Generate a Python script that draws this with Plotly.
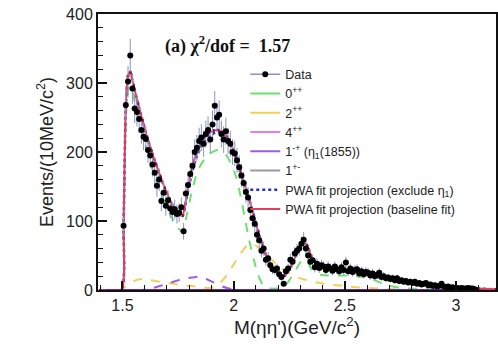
import math
import plotly.graph_objects as go

# ---------------- data ----------------
data_counts = [93, 268, 302, 340, 292, 263, 258, 248, 232, 222,
               219, 203, 195, 182, 170, 151, 160, 129, 141, 122,
               130, 118, 113, 117, 110, 112, 120, 85, 140, 152,
               168, 180, 200, 206, 216, 221, 212, 226, 232, 218,
               240, 267, 250, 254, 226, 218, 230, 216, 212, 200,
               198, 188, 178, 166, 155, 142, 134, 116, 104, 96,
               80, 72, 57, 60, 44, 46, 36, 30, 29, 31,
               23, 19, 9, 27, 31, 44, 41, 53, 57, 60,
               67, 73, 60, 50, 41, 43, 33, 38, 32, 36,
               34, 29, 34, 31, 28, 34, 30, 27, 33, 29,
               40, 27, 31, 26, 29, 30, 24, 27, 23, 26,
               25, 21, 24, 20, 22, 25, 19, 20, 17, 18,
               16, 17, 14, 17, 13, 14, 12, 13, 11, 12,
               10, 12, 9, 10, 8, 9, 10, 7, 8, 6,
               7, 5, 6, 9, 5, 4, 5, 3, 4, 3,
               3, 2, 3, 2, 2, 3, 2, 2, 1]
data_mass = [round(1.505 + 0.01 * i, 3) for i in range(len(data_counts))]
data_err = [1.3 * math.sqrt(c) for c in data_counts]

curve_mass = [1.40, 1.495, 1.505, 1.515, 1.525, 1.535, 1.55, 1.57, 1.59, 1.61,
              1.63, 1.65, 1.67, 1.69, 1.71, 1.73, 1.75, 1.77, 1.79, 1.81,
              1.83, 1.85, 1.87, 1.89, 1.91, 1.93, 1.95, 1.97, 1.99, 2.01,
              2.03, 2.05, 2.07, 2.09, 2.11, 2.13, 2.15, 2.17, 2.19, 2.21,
              2.23, 2.25, 2.27, 2.29, 2.31, 2.33, 2.35, 2.37, 2.39, 2.42,
              2.46, 2.50, 2.55, 2.60, 2.65, 2.70, 2.75, 2.80, 2.85, 2.90,
              2.95, 3.00, 3.05, 3.10, 3.18]

fit_baseline = [0, 0, 95, 265, 310, 316, 296, 270, 246, 222,
                202, 183, 165, 148, 133, 120, 109, 108, 140, 172,
                197, 212, 222, 228, 231, 232, 229, 222, 210, 193,
                172, 152, 132, 108, 85, 64, 47, 35, 27, 22,
                21, 30, 43, 57, 68, 65, 48, 40, 36, 33,
                31, 29, 26, 22, 19, 16, 13, 11, 9, 7,
                5, 4, 3, 2, 1]

fit_exclude = [0, 0, 95, 265, 310, 316, 296, 270, 246, 222,
               202, 183, 165, 148, 133, 120, 109, 107, 136, 166,
               190, 205, 216, 223, 227, 229, 227, 221, 209, 193,
               172, 152, 132, 108, 85, 64, 47, 35, 27, 22,
               21, 30, 43, 57, 68, 65, 48, 40, 36, 33,
               31, 29, 26, 22, 19, 16, 13, 11, 9, 7,
               5, 4, 3, 2, 1]

wave_0pp = [0, 0, 85, 245, 290, 296, 280, 252, 226, 202,
            180, 160, 142, 126, 112, 100, 90, 84, 110, 140,
            164, 180, 190, 197, 201, 203, 200, 194, 182, 165,
            138, 105, 72, 45, 22, 8, 3, 2, 2, 3,
            6, 14, 24, 35, 44, 42, 30, 24, 22, 21,
            21, 21, 20, 18, 12, 6, 3, 2, 1, 1,
            0, 0, 0, 0, 0]

wave_2pp = [0, 0, 2, 5, 8, 10, 13, 15, 16, 15,
            14, 13, 12, 11, 10, 9, 8, 7, 6, 6,
            5, 4, 3, 3, 4, 8, 14, 22, 32, 42,
            52, 61, 66, 66, 62, 56, 50, 44, 38, 33,
            28, 24, 21, 18, 16, 14, 12, 11, 10, 8,
            7, 6, 4, 3, 2, 1, 1, 0, 0, 0,
            0, 0, 0, 0, 0]

wave_4pp = [0, 0, 0, 0, 0, 0, 0, 0, 0, 0,
            0, 0, 0, 0, 0, 0, 0, 0, 0, 0,
            0, 0, 0, 0, 0, 0, 0, 0, 0, 0,
            0, 0, 0, 0, 0, 0, 0, 0, 0, 0,
            0, 0, 0, 0, 0, 0, 0, 0, 0, 0,
            0, 0, 0, 0, 0, 0, 0, 0, 0, 0,
            0, 0, 0, 0, 0]

wave_1mp = [0, 0, 0, 0, 0, 0, 0, 0, 0, 1,
            2, 4, 6, 8, 10, 12, 14, 16, 17, 18,
            19, 19, 17, 14, 11, 8, 5, 3, 1.5, 0.5,
            0, 0, 0, 0, 0, 0, 0, 0, 0, 0,
            0, 0, 0, 0, 0, 0, 0, 0, 0, 0,
            0, 0, 0, 0, 0, 0, 0, 0, 0, 0,
            0, 0, 0, 0, 0]

wave_1pm = [0, 0, 0, 0, 0, 0, 0, 0, 0, 0,
            0, 0, 0, 0, 0, 0, 0, 0, 0, 0,
            0, 0, 0, 0, 0, 0, 0, 0, 0, 0,
            0, 0, 0, 0, 0, 0, 0, 0, 0, 0,
            0, 0, 0, 0, 0, 0, 0, 0, 0, 0,
            0, 0, 0, 0, 0, 0, 0, 0, 0, 0,
            0, 0, 0, 0, 0]

x_ticks = [1.5, 2.0, 2.5, 3.0]
x_tick_text = ["1.5", "2", "2.5", "3"]
y_ticks = [0, 100, 200, 300, 400]

legend_names = ["Data", "0<sup>++</sup>", "2<sup>++</sup>", "4<sup>++</sup>",
                "1<sup>-+</sup> (η<sub>1</sub>(1855))", "1<sup>+-</sup>",
                "PWA fit projection (exclude η<sub>1</sub>)",
                "PWA fit projection (baseline fit)"]

C_DATA_ERR = "#8a94c4"
C_0PP = "#6ee06e"
C_2PP = "#f2cf55"
C_4PP = "#de7ef0"
C_1MP = "#9a5fdc"
C_1PM = "#9a9a9a"
C_EXCL = "#2b2bd0"
C_BASE = "#e0405e"

# ---------------- figure ----------------
fig = go.Figure()

fig.add_trace(go.Scatter(
    x=curve_mass, y=wave_0pp, mode="lines", showlegend=False,
    line=dict(color=C_0PP, width=2, dash="dash", shape="spline", smoothing=0.6),
))
fig.add_trace(go.Scatter(
    x=curve_mass, y=wave_2pp, mode="lines", showlegend=False,
    line=dict(color=C_2PP, width=2, dash="dash", shape="spline", smoothing=0.6),
))
fig.add_trace(go.Scatter(
    x=curve_mass, y=wave_4pp, mode="lines", showlegend=False,
    line=dict(color=C_4PP, width=1.8, dash="dash"),
))
fig.add_trace(go.Scatter(
    x=curve_mass, y=wave_1mp, mode="lines", showlegend=False,
    line=dict(color=C_1MP, width=2, dash="dash", shape="spline", smoothing=0.6),
))
fig.add_trace(go.Scatter(
    x=curve_mass, y=wave_1pm, mode="lines", showlegend=False,
    line=dict(color=C_1PM, width=1.5),
))
# baseline purple line along zero
fig.add_trace(go.Scatter(
    x=[curve_mass[0], curve_mass[-1]], y=[0, 0], mode="lines", showlegend=False,
    line=dict(color="#6a2ca0", width=2), hoverinfo="skip",
))
fig.add_trace(go.Scatter(
    x=curve_mass, y=fit_exclude, mode="lines", showlegend=False,
    line=dict(color=C_EXCL, width=2.5, dash="dot", shape="spline", smoothing=0.6),
))
fig.add_trace(go.Scatter(
    x=curve_mass, y=fit_baseline, mode="lines+markers", showlegend=False,
    line=dict(color=C_BASE, width=2, shape="spline", smoothing=0.6),
    marker=dict(color="#8a1040", size=3),
))
fig.add_trace(go.Scatter(
    x=data_mass, y=data_counts, mode="markers", showlegend=False,
    marker=dict(color="black", size=6),
    error_y=dict(type="data", array=data_err, color=C_DATA_ERR, thickness=1, width=0),
))

# legend entries (ROOT-style: solid line samples)
fig.add_trace(go.Scatter(x=[None], y=[None], mode="lines+markers", name=legend_names[0],
                         line=dict(color=C_DATA_ERR, width=1.5), marker=dict(color="black", size=6)))
fig.add_trace(go.Scatter(x=[None], y=[None], mode="lines", name=legend_names[1],
                         line=dict(color=C_0PP, width=2)))
fig.add_trace(go.Scatter(x=[None], y=[None], mode="lines", name=legend_names[2],
                         line=dict(color=C_2PP, width=2)))
fig.add_trace(go.Scatter(x=[None], y=[None], mode="lines", name=legend_names[3],
                         line=dict(color=C_4PP, width=2)))
fig.add_trace(go.Scatter(x=[None], y=[None], mode="lines", name=legend_names[4],
                         line=dict(color=C_1MP, width=2)))
fig.add_trace(go.Scatter(x=[None], y=[None], mode="lines", name=legend_names[5],
                         line=dict(color=C_1PM, width=2)))
fig.add_trace(go.Scatter(x=[None], y=[None], mode="lines", name=legend_names[6],
                         line=dict(color=C_EXCL, width=2.5, dash="dot")))
fig.add_trace(go.Scatter(x=[None], y=[None], mode="lines", name=legend_names[7],
                         line=dict(color=C_BASE, width=2)))

axis_font = dict(family="Liberation Sans, Arial, sans-serif", size=16, color="#222")

fig.update_layout(
    width=498, height=349,
    margin=dict(l=98, r=0, t=14, b=59),
    paper_bgcolor="white", plot_bgcolor="white",
    font=dict(family="Liberation Sans, Arial, sans-serif", color="#222"),
    legend=dict(
        x=0.37, y=0.835, xanchor="left", yanchor="top",
        bgcolor="rgba(0,0,0,0)", font=dict(size=12.5, color="#222"),
        tracegroupgap=0, itemwidth=30,
    ),
    xaxis=dict(
        range=[1.39, 3.18], showgrid=False, zeroline=False,
        showline=True, linecolor="#111", linewidth=2, mirror=True,
        ticks="inside", ticklen=9, tickwidth=1.5, tickcolor="#111",
        tickvals=x_ticks, ticktext=x_tick_text, tickfont=axis_font,
        minor=dict(dtick=0.1, tick0=1.5, ticks="inside", ticklen=5, tickcolor="#111", tickwidth=1.2),
        title=dict(text="M(ηη')(GeV/c<sup>2</sup>)", font=dict(size=19, color="#222"), standoff=4),
    ),
    yaxis=dict(
        range=[0, 400], showgrid=False, zeroline=False,
        showline=True, linecolor="#111", linewidth=2, mirror=True,
        ticks="inside", ticklen=9, tickwidth=1.5, tickcolor="#111",
        tickvals=y_ticks, tickfont=axis_font,
        minor=dict(dtick=20, ticks="inside", ticklen=5, tickcolor="#111", tickwidth=1.2),
        title=dict(text="Events/(10MeV/c<sup>2</sup>)", font=dict(size=18, color="#222"), standoff=8),
    ),
)

fig.add_annotation(
    x=(163 - 98) / 400, y=1 - (45 - 14) / 276, xref="paper", yref="paper", showarrow=False,
    text="<b>(a) χ<sup>2</sup>/dof =  1.57</b>",
    font=dict(family="Liberation Serif, Times New Roman, serif", size=18, color="#111"),
    xanchor="left", yanchor="middle",
)

fig.write_html("out.html")
